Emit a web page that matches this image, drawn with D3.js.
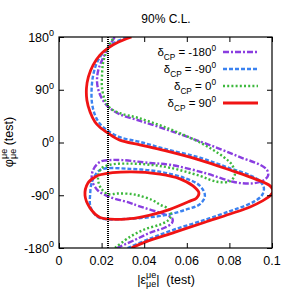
<!DOCTYPE html>
<html><head><meta charset="utf-8">
<script src="https://cdn.jsdelivr.net/npm/d3@7"></script>
<style>body{margin:0;background:#fff}svg{display:block}</style>
</head><body>
<svg id="c" width="294" height="300"></svg>
<script>
const title = "90% C.L.";
const xTicks = [0, 0.02, 0.04, 0.06, 0.08, 0.1];
const xTickLabels = ["0", "0.02", "0.04", "0.06", "0.08", "0.1"];
const yTicks = [-180, -90, 0, 90, 180];
const yTickLabels = ["-180", "-90", "0", "90", "180"];
const legendValues = ["-180", "-90", "0", "90"];
const vLine = 0.023;

// [|eps|, phi]
const purple = [[0.0272,-180],[0.0357,-166],[0.0427,-154],[0.0498,-145],[0.0531,-137],[0.0531,-129],[0.0498,-123],[0.0371,-108],[0.0333,-103],[0.0239,-93],[0.0183,-82],[0.0155,-64],[0.0160,-47],[0.0193,-33],[0.0239,-30],[0.0296,-30],[0.0427,-35],[0.0521,-38],[0.0685,-52],[0.0817,-67],[0.0897,-70],[0.0953,-66],[0.0981,-57],[0.0977,-47],[0.0944,-38],[0.0850,-25],[0.0742,-9],[0.0615,8],[0.0498,23],[0.0380,37],[0.0286,48],[0.0228,62],[0.0196,79],[0.0180,98],[0.0180,115],[0.0190,130],[0.0208,145],[0.0230,161],[0.0262,180]];
const blueOuter = [[0.0322,-180],[0.0427,-164],[0.0545,-148],[0.0685,-132],[0.0803,-117],[0.0873,-108],[0.0920,-100],[0.0953,-90],[0.0962,-78],[0.0944,-66],[0.0897,-56],[0.0803,-44],[0.0662,-26],[0.0498,-11],[0.0380,1],[0.0286,9],[0.0230,20],[0.0192,32],[0.0169,47],[0.0155,67],[0.0153,90],[0.0160,114],[0.0178,136],[0.0207,153],[0.0249,168],[0.0322,180]];
const blueInner = [[0.0146,-90],[0.0155,-67],[0.0193,-47],[0.0333,-45],[0.0474,-50],[0.0592,-61],[0.0662,-74],[0.0685,-91],[0.0662,-105],[0.0592,-115],[0.0498,-124],[0.0333,-130],[0.0193,-129],[0.0160,-119],[0.0146,-107]];
const green = [[0.0263,-180],[0.0333,-161],[0.0404,-148],[0.0474,-140],[0.0512,-133],[0.0526,-124],[0.0512,-113],[0.0474,-106],[0.0437,-98],[0.0380,-91],[0.0343,-88],[0.0277,-87],[0.0230,-88],[0.0197,-78],[0.0183,-61],[0.0197,-45],[0.0239,-38],[0.0333,-36],[0.0427,-38],[0.0521,-43],[0.0662,-57],[0.0742,-67],[0.0803,-66],[0.0826,-54],[0.0812,-38],[0.0770,-24],[0.0662,0],[0.0498,26],[0.0371,42],[0.0286,50],[0.0239,59],[0.0216,72],[0.0202,93],[0.0202,115],[0.0207,136],[0.0221,153],[0.0239,168],[0.0258,180]];
const redOuter = [[0.0340,-180],[0.0404,-170],[0.0545,-153],[0.0685,-136],[0.0803,-122],[0.0897,-110],[0.0953,-100],[0.0991,-91],[0.1005,-83],[0.0991,-74],[0.0920,-62],[0.0803,-47],[0.0662,-30],[0.0498,-14],[0.0380,-4],[0.0286,4],[0.0230,16],[0.0192,26],[0.0169,35],[0.0146,52],[0.0131,72],[0.0129,93],[0.0138,112],[0.0160,132],[0.0192,149],[0.0230,161],[0.0277,171],[0.0340,180]];
const redInner = [[0.0122,-90],[0.0136,-69],[0.0169,-59],[0.0193,-55],[0.0333,-50],[0.0474,-54],[0.0568,-62],[0.0629,-74],[0.0657,-86],[0.0645,-95],[0.0615,-100],[0.0521,-114],[0.0427,-124],[0.0333,-130],[0.0193,-128],[0.0146,-112]];

const L = 59, R = 272, T = 37, B = 248;
const x = d3.scaleLinear().domain([0, 0.1]).range([L, R]);
const y = d3.scaleLinear().domain([-180, 180]).range([B, T]);
const svg = d3.select("#c").attr("font-family", "'Liberation Sans', Arial, sans-serif");

const styles = [
  {color: "#8a3ee0", dash: "6,2,2,2", w: 2.4},
  {color: "#3b82f0", dash: "4,2", w: 2.4},
  {color: "#3cb83c", dash: "2,2.2", w: 2.4},
  {color: "#f01414", dash: null, w: 2.8}
];

svg.append("defs").append("clipPath").attr("id", "pc")
  .append("rect").attr("x", L).attr("y", T).attr("width", R - L).attr("height", B - T);
const plot = svg.append("g").attr("clip-path", "url(#pc)");

const lineOpen = d3.line().x(d => x(d[0])).y(d => y(d[1])).curve(d3.curveCatmullRom.alpha(0.5));
const lineClosed = d3.line().x(d => x(d[0])).y(d => y(d[1])).curve(d3.curveCatmullRomClosed.alpha(0.5));

const curves = [
  {data: purple, s: 0, closed: false},
  {data: blueOuter, s: 1, closed: false},
  {data: blueInner, s: 1, closed: true},
  {data: green, s: 2, closed: false},
  {data: redOuter, s: 3, closed: false},
  {data: redInner, s: 3, closed: true}
];
curves.forEach(c => {
  const st = styles[c.s];
  plot.append("path").attr("d", (c.closed ? lineClosed : lineOpen)(c.data))
    .attr("fill", "none").attr("stroke", st.color).attr("stroke-width", st.w)
    .attr("stroke-dasharray", st.dash);
});

// vertical dotted line
plot.append("line").attr("x1", x(vLine)).attr("x2", x(vLine)).attr("y1", T).attr("y2", B)
  .attr("stroke", "#000").attr("stroke-width", 2).attr("stroke-dasharray", "1,1");

// axes ticks (inward)
const tk = 5;
svg.append("g").attr("transform", `translate(0,${B})`)
  .call(d3.axisBottom(x).tickValues(xTicks).tickSize(-tk).tickFormat(""))
  .call(g => g.select(".domain").remove());
svg.append("g").attr("transform", `translate(0,${T})`)
  .call(d3.axisTop(x).tickValues(xTicks).tickSize(-tk).tickFormat(""))
  .call(g => g.select(".domain").remove());
svg.append("g").attr("transform", `translate(${L},0)`)
  .call(d3.axisLeft(y).tickValues(yTicks).tickSize(-tk).tickFormat(""))
  .call(g => g.select(".domain").remove());
svg.append("g").attr("transform", `translate(${R},0)`)
  .call(d3.axisRight(y).tickValues(yTicks).tickSize(-tk).tickFormat(""))
  .call(g => g.select(".domain").remove());
svg.selectAll(".tick line").attr("stroke", "#000").attr("stroke-width", 1);
svg.append("rect").attr("x", L).attr("y", T).attr("width", R - L).attr("height", B - T)
  .attr("fill", "none").attr("stroke", "#000").attr("stroke-width", 1.2);

// rich text helper
function rich(parent, px, py, parts, anchor, size) {
  const g = parent.append("g");
  let cx = 0, lastStart = 0, lastEnd = 0;
  parts.forEach(p => {
    const fs = p.small ? size * 0.72 : size;
    const start = p.stack ? lastStart : cx;
    const t = g.append("text").attr("x", start).attr("y", p.dy || 0)
      .attr("font-size", fs).attr("fill", "#000").style("white-space", "pre").text(p.t);
    const w = t.node().getComputedTextLength();
    if (p.stack) { cx = Math.max(lastEnd, start + w); }
    else { lastStart = start; lastEnd = start + w; cx = start + w; }
  });
  const off = anchor === "end" ? -cx : anchor === "middle" ? -cx / 2 : 0;
  g.attr("transform", `translate(${px + off},${py})`);
  return g;
}

const FS = 12.5;
xTicks.forEach((v, i) => {
  rich(svg, x(v), 265, [{t: xTickLabels[i]}], "middle", FS);
});
yTicks.forEach((v, i) => {
  rich(svg, 54, y(v) + 4.5, [{t: yTickLabels[i]}, {t: "0", small: true, dy: -5.5}], "end", FS);
});

// title
rich(svg, 166, 23, [{t: title}], "middle", 12);

// x label
rich(svg, 166, 284, [
  {t: "|ε"}, {t: "μe", small: true, dy: -6.5}, {t: "μe", small: true, dy: 3, stack: true},
  {t: "|\u00a0\u00a0(test)"}
], "middle", 12.5);

// y label
const yl = svg.append("g").attr("transform", `translate(13,142) rotate(-90)`);
rich(yl, 0, 0, [
  {t: "φ"}, {t: "μe", small: true, dy: -6.5}, {t: "μe", small: true, dy: 3, stack: true},
  {t: "\u00a0(test)"}
], "middle", 12.5);

// legend
const legY = [52, 69, 86, 103];
legendValues.forEach((v, i) => {
  const st = styles[i];
  rich(svg, 216, legY[i] + 4, [
    {t: "δ"}, {t: "CP", small: true, dy: 3.5}, {t: " = " + v}, {t: "0", small: true, dy: -5.5}
  ], "end", 11.5);
  svg.append("line").attr("x1", 223).attr("x2", 258).attr("y1", legY[i]).attr("y2", legY[i])
    .attr("stroke", st.color).attr("stroke-width", st.w).attr("stroke-dasharray", st.dash);
});
</script>
</body></html>
